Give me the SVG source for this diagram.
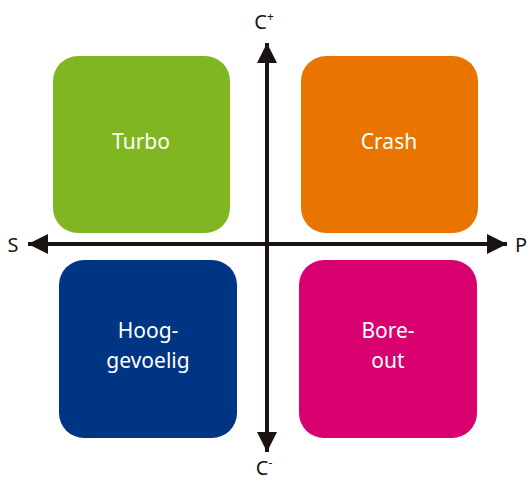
<svg xmlns="http://www.w3.org/2000/svg" width="527" height="480" viewBox="0 0 527 480">
<style>
.box{stroke:none}
.lbl{font-family:"Noto Sans","Open Sans",sans-serif;font-size:21px;fill:#ffffff;text-anchor:middle}
.ax{font-family:"Noto Sans","Open Sans",sans-serif;font-size:20px;fill:#1a1311;text-anchor:middle}
.axis{stroke:#1a1311;stroke-width:4;fill:none}
</style>
<defs>
<marker id="ah" viewBox="0 0 10 10" refX="10" refY="5" markerWidth="5" markerHeight="5" markerUnits="strokeWidth" orient="auto">
<path d="M0,0 L10,5 L0,10 Z" fill="#1a1311"/>
</marker>
</defs>
<g id="turbo"><rect class="box" x="53" y="56" width="177" height="177" rx="25" fill="#80b622"/><text class="lbl" x="141" y="149">Turbo</text></g>
<g id="crash"><rect class="box" x="301" y="56" width="177" height="177" rx="25" fill="#e97500"/><text class="lbl" x="389" y="149">Crash</text></g>
<g id="hoog"><rect class="box" x="59" y="260" width="178" height="178" rx="25" fill="#003584"/><text class="lbl" x="148" y="338">Hoog-</text><text class="lbl" x="148" y="368">gevoelig</text></g>
<g id="bore"><rect class="box" x="299" y="260" width="178" height="178" rx="25" fill="#d9006f"/><text class="lbl" x="388" y="338">Bore-</text><text class="lbl" x="388" y="368">out</text></g>
<g id="connectors">
<line class="axis" x1="267" y1="452" x2="267" y2="43" marker-end="url(#ah)"/>
<line class="axis" x1="267" y1="244" x2="267" y2="452" marker-end="url(#ah)"/>
<line class="axis" x1="267" y1="244" x2="28" y2="244" marker-end="url(#ah)"/>
<line class="axis" x1="267" y1="244" x2="507" y2="244" marker-end="url(#ah)"/>
</g>
<text class="ax" x="264" y="29">C<tspan font-size="12" dy="-8">+</tspan></text>
<text class="ax" x="264" y="475">C<tspan font-size="12" dy="-8">-</tspan></text>
<text class="ax" x="13" y="252">S</text>
<text class="ax" x="521" y="252">P</text>
</svg>
